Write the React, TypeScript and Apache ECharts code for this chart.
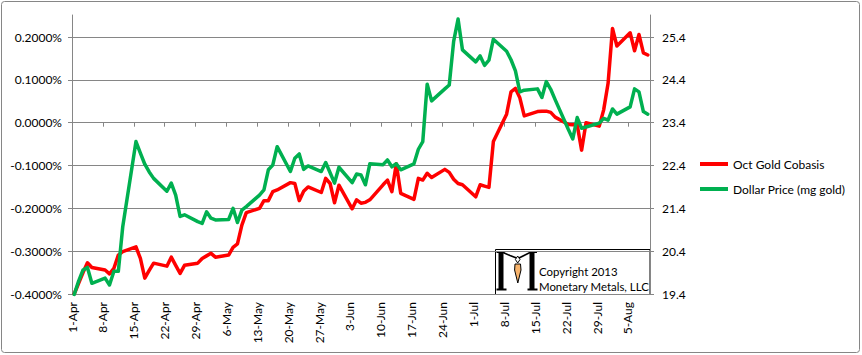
import React, { useEffect, useRef } from 'react';
import * as echarts from 'echarts';

// Trading dates (2013, M/D)
const dates = [
  '4/1','4/2','4/3','4/4','4/5','4/8','4/9','4/10','4/11','4/12',
  '4/15','4/16','4/17','4/18','4/19','4/22','4/23','4/24','4/25','4/26',
  '4/29','4/30','5/1','5/2','5/3','5/6','5/7','5/8','5/9','5/10',
  '5/13','5/14','5/15','5/16','5/17','5/20','5/21','5/22','5/23','5/24',
  '5/27','5/28','5/29','5/30','5/31','6/3','6/4','6/5','6/6','6/7',
  '6/10','6/11','6/12','6/13','6/14','6/17','6/18','6/19','6/20','6/21',
  '6/24','6/25','6/26','6/27','6/28','7/1','7/2','7/3','7/4','7/5',
  '7/8','7/9','7/10','7/11','7/12','7/15','7/16','7/17','7/18','7/19',
  '7/22','7/23','7/24','7/25','7/26','7/29','7/30','7/31','8/1','8/2',
  '8/5','8/6','8/7','8/8','8/9',
];

// Oct Gold Cobasis, in percent
const cobasis = [
  -0.400, -0.375, -0.350, -0.327, -0.338, -0.344, -0.353, -0.340, -0.309, -0.301,
  -0.290, -0.317, -0.363, -0.345, -0.328, -0.335, -0.314, -0.333, -0.352, -0.333,
  -0.328, -0.317, -0.311, -0.305, -0.314, -0.309, -0.291, -0.283, -0.239, -0.210,
  -0.200, -0.182, -0.182, -0.161, -0.157, -0.140, -0.142, -0.182, -0.160, -0.150,
  -0.163, -0.130, -0.142, -0.187, -0.146, -0.201, -0.180, -0.188, -0.186, -0.180,
  -0.145, -0.134, -0.161, -0.096, -0.165, -0.179, -0.130, -0.134, -0.118, -0.128,
  -0.109, -0.116, -0.132, -0.142, -0.145, -0.173, -0.145, -0.148, -0.151, -0.044,
  0.020, 0.072, 0.080, 0.058, 0.016, 0.026, 0.027, 0.027, 0.024, 0.013,
  -0.004, -0.005, -0.005, -0.064, 0.000, -0.008, 0.030, 0.092, 0.220, 0.179,
  0.210, 0.168, 0.206, 0.163, 0.158,
];

// Dollar price (mg gold)
const dollarPrice = [
  19.39, 19.70, 19.96, 20.02, 19.65, 19.77, 19.61, 19.93, 19.93, 20.97,
  22.96, 22.69, 22.43, 22.25, 22.10, 21.80, 21.99, 21.71, 21.21, 21.25,
  21.09, 21.05, 21.32, 21.17, 21.13, 21.14, 21.40, 21.07, 21.36, 21.44,
  21.71, 21.83, 22.30, 22.41, 22.84, 22.26, 22.57, 22.67, 22.31, 22.39,
  22.26, 22.47, 22.23, 21.99, 22.36, 22.00, 22.20, 22.18, 21.95, 22.44,
  22.42, 22.53, 22.37, 22.44, 22.30, 22.44, 22.78, 22.96, 24.30, 23.91,
  24.19, 24.28, 25.30, 25.82, 25.10, 24.82, 24.96, 24.74, 24.86, 25.35,
  25.07, 24.87, 24.61, 24.12, 24.16, 24.19, 23.99, 24.36, 24.18, 23.94,
  23.24, 23.02, 23.52, 23.27, 23.30, 23.39, 23.50, 23.46, 23.72, 23.60,
  23.77, 24.19, 24.12, 23.66, 23.60,
];

const xTickLabels = [
  '1-Apr','8-Apr','15-Apr','22-Apr','29-Apr','6-May','13-May','20-May','27-May',
  '3-Jun','10-Jun','17-Jun','24-Jun','1-Jul','8-Jul','15-Jul','22-Jul','29-Jul','5-Aug',
];
const leftTicks = [-0.4, -0.3, -0.2, -0.1, 0, 0.1, 0.2];
const rightTicks = [19.4, 20.4, 21.4, 22.4, 23.4, 24.4, 25.4];

const seriesNames = ['Oct Gold Cobasis', 'Dollar Price (mg gold)'];

const FONT = 'Lato, "Open Sans", sans-serif';
const GRID_COLOR = '#868686';

function dayOffset(s: string): number {
  const [m, d] = s.split('/').map(Number);
  return (Date.UTC(2013, m - 1, d) - Date.UTC(2013, 3, 1)) / 86400000;
}

export default function App() {
  const ref = useRef<HTMLDivElement>(null);

  useEffect(() => {
    if (!ref.current) return;
    const chart = echarts.init(ref.current, null, { renderer: 'svg' });

    // each date occupies a one-day slot; values sit in the middle of the slot
    const xs = dates.map((d) => dayOffset(d) + 0.5);
    const redData = xs.map((x, i) => [x, cobasis[i]]);
    const greenData = xs.map((x, i) => [x, dollarPrice[i]]);
    const tickDays = xTickLabels.map((_, i) => i * 7);

    const labelStyle = { fontFamily: FONT, fontSize: 12, color: '#000' };

    chart.setOption({
      animation: false,
      backgroundColor: '#fff',
      textStyle: { fontFamily: FONT },
      grid: {
        left: 72,
        right: 212,
        top: 15,
        bottom: 61,
        outerBoundsMode: 'none',
        containLabel: false,
      },
      legend: {
        orient: 'vertical',
        left: 700,
        top: 157,
        padding: 0,
        itemWidth: 28,
        itemHeight: 4,
        itemGap: 11,
        icon: 'rect',
        data: seriesNames,
        textStyle: { ...labelStyle, lineHeight: 14 },
      },
      xAxis: {
        type: 'value',
        min: 0,
        max: 131,
        axisLine: { show: true, lineStyle: { color: GRID_COLOR, width: 1 } },
        axisTick: {
          show: true,
          inside: false,
          length: 4,
          customValues: tickDays,
          lineStyle: { color: GRID_COLOR },
        },
        axisLabel: {
          customValues: tickDays,
          rotate: 90,
          margin: 8,
          padding: [5, 0, 0, 0],
          ...labelStyle,
          formatter: (v: number) => xTickLabels[Math.round(v / 7)] ?? '',
        },
        splitLine: { show: false },
      },
      yAxis: [
        {
          type: 'value',
          min: -0.4,
          max: 0.2515,
          position: 'left',
          axisLine: { show: true, lineStyle: { color: GRID_COLOR, width: 1 } },
          axisTick: {
            show: true,
            inside: false,
            length: 4,
            customValues: leftTicks,
            lineStyle: { color: GRID_COLOR },
          },
          axisLabel: {
            customValues: leftTicks,
            margin: 10,
            ...labelStyle,
            formatter: (v: number) => v.toFixed(4) + '%',
          },
          splitLine: { show: true, lineStyle: { color: GRID_COLOR, width: 1 } },
        },
        {
          type: 'value',
          min: 19.4,
          max: 25.915,
          position: 'right',
          axisLine: { show: true, lineStyle: { color: GRID_COLOR, width: 1 } },
          axisTick: {
            show: true,
            inside: false,
            length: 4,
            customValues: rightTicks,
            lineStyle: { color: GRID_COLOR },
          },
          axisLabel: {
            customValues: rightTicks,
            margin: 12,
            ...labelStyle,
            formatter: (v: number) => v.toFixed(1),
          },
          splitLine: { show: false },
        },
      ],
      series: [
        {
          name: seriesNames[0],
          type: 'line',
          yAxisIndex: 0,
          data: redData,
          showSymbol: false,
          symbol: 'none',
          color: '#FF0000',
          lineStyle: { color: '#FF0000', width: 3.5, join: 'round', cap: 'round' },
          clip: false,
          z: 3,
        },
        {
          name: seriesNames[1],
          type: 'line',
          yAxisIndex: 1,
          data: greenData,
          showSymbol: false,
          symbol: 'none',
          color: '#00B050',
          lineStyle: { color: '#00B050', width: 3.5, join: 'round', cap: 'round' },
          clip: false,
          z: 4,
        },
      ],
      graphic: [
        {
          type: 'rect',
          silent: true,
          shape: { x: 1.5, y: 1.5, width: 858, height: 351, r: 3 },
          style: { fill: 'none', stroke: GRID_COLOR, lineWidth: 1 },
          z: 0,
        },
        {
          type: 'group',
          silent: true,
          z: 10,
          children: [
            {
              type: 'rect',
              shape: { x: 495.5, y: 249.5, width: 154.5, height: 45 },
              style: { fill: '#fff', stroke: '#000', lineWidth: 1 },
            },
            // left stem + serifs
            { type: 'rect', shape: { x: 498.5, y: 252, width: 5, height: 38 }, style: { fill: '#000' } },
            { type: 'rect', shape: { x: 496.5, y: 288.5, width: 10, height: 2 }, style: { fill: '#000' } },
            { type: 'rect', shape: { x: 496.5, y: 251, width: 8, height: 2 }, style: { fill: '#000' } },
            // right stem + serifs
            { type: 'rect', shape: { x: 529.5, y: 252, width: 5, height: 38 }, style: { fill: '#000' } },
            { type: 'rect', shape: { x: 527.5, y: 288.5, width: 10, height: 2 }, style: { fill: '#000' } },
            { type: 'rect', shape: { x: 529, y: 251, width: 8, height: 2 }, style: { fill: '#000' } },
            // thin diagonals
            {
              type: 'polyline',
              shape: { points: [[503, 252.5], [510, 255.5], [516.5, 258]] },
              style: { stroke: '#000', lineWidth: 1.6, fill: 'none' },
            },
            {
              type: 'polyline',
              shape: { points: [[530, 252.5], [524, 255.5], [519, 258]] },
              style: { stroke: '#000', lineWidth: 1.6, fill: 'none' },
            },
            // figure head
            {
              type: 'polygon',
              shape: { points: [[517.7, 256], [520, 259.5], [517.7, 263], [515.4, 259.5]] },
              style: { fill: '#fff', stroke: '#000', lineWidth: 1 },
            },
            // figure body
            {
              type: 'polygon',
              shape: { points: [[515, 264], [520.5, 264], [521, 270], [517.8, 283], [514.6, 270]] },
              style: { fill: '#F7B36B', stroke: '#000', lineWidth: 1 },
            },
            {
              type: 'text',
              style: {
                text: 'Copyright 2013',
                x: 539,
                y: 271.5,
                verticalAlign: 'middle',
                align: 'left',
                font: '11.4px ' + FONT,
                fill: '#000',
              },
            },
            {
              type: 'text',
              style: {
                text: 'Monetary Metals, LLC',
                x: 539,
                y: 286.5,
                verticalAlign: 'middle',
                align: 'left',
                font: '11.4px ' + FONT,
                fill: '#000',
              },
            },
          ],
        },
      ],
    });

    return () => {
      chart.dispose();
    };
  }, []);

  return (
    <div
      ref={ref}
      style={{ position: 'absolute', left: 0, top: 0, width: 862, height: 355, background: '#fff' }}
    />
  );
}
